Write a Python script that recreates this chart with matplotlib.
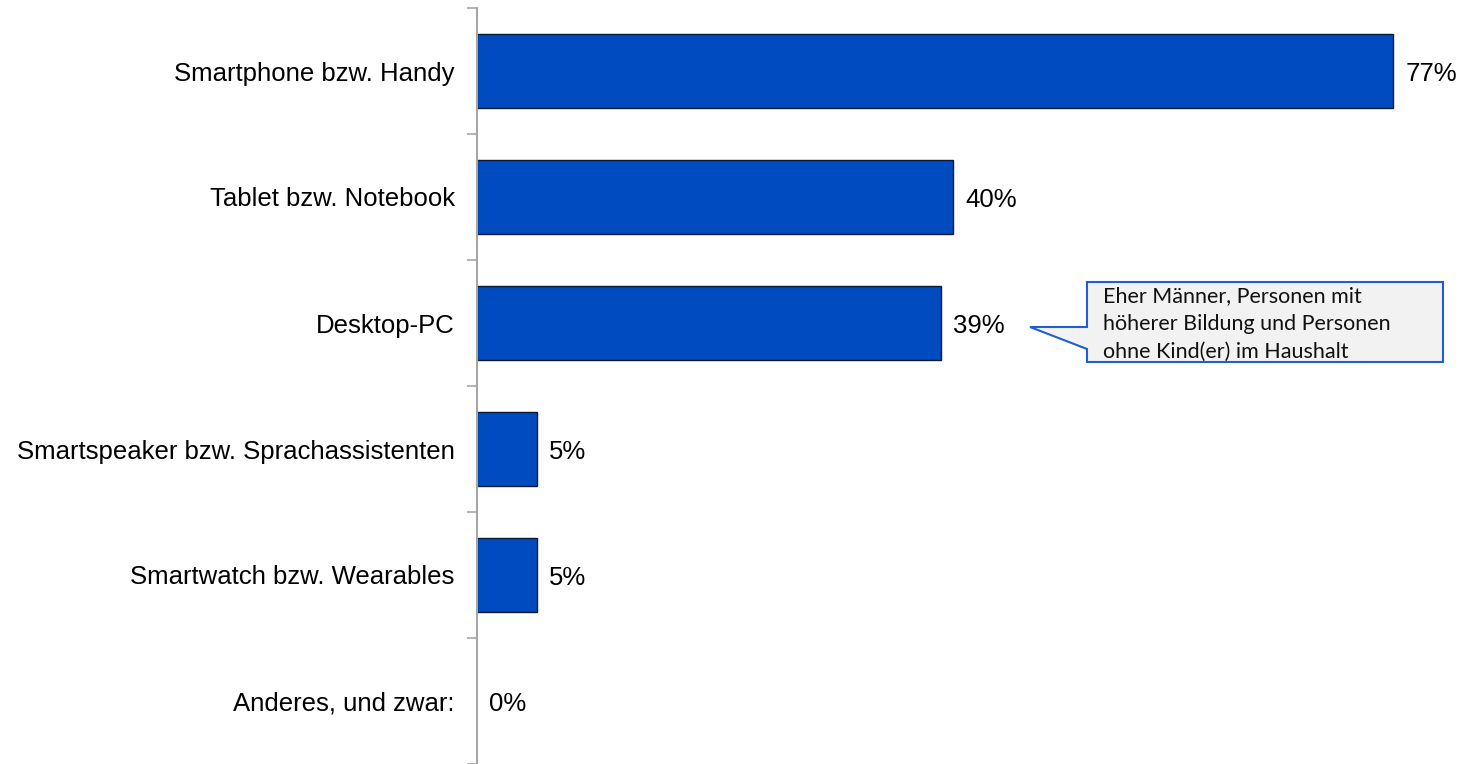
import matplotlib
matplotlib.use("Agg")
import matplotlib.pyplot as plt
from matplotlib.patches import Polygon

categories = ["Smartphone bzw. Handy", "Tablet bzw. Notebook", "Desktop-PC",
              "Smartspeaker bzw. Sprachassistenten", "Smartwatch bzw. Wearables",
              "Anderes, und zwar:"]
values = [77, 40, 39, 5, 5, 0]
callout_text = "Eher Männer, Personen mit\nhöherer Bildung und Personen\nohne Kind(er) im Haushalt"

W, H = 1461, 764
fig = plt.figure(figsize=(W / 100, H / 100), dpi=100)
ax = fig.add_axes([477 / W, 0, 984 / W, 756 / H])
ax.set_xlim(0, 984 / 11.9)
ax.set_ylim(len(categories) - 0.5, -0.5)

y = list(range(len(categories)))
ax.barh(y, values, height=0.58, color="#004bc0", edgecolor="#0a1a3a",
        linewidth=[1.0 if v > 0 else 0 for v in values])

for yi, v in zip(y, values):
    ax.annotate(f"{v}%", (v, yi), xytext=(12, -3), textcoords="offset pixels",
                va="center", ha="left", fontsize=18.5, family="Liberation Sans")

ax.set_yticks(y)
ax.set_yticklabels(categories, fontsize=18.5, family="Liberation Sans")
ax.tick_params(axis="y", which="major", length=0, pad=16)
ax.set_yticks([i + 0.5 for i in range(-1, len(categories))], minor=True)
ax.tick_params(axis="y", which="minor", length=7, color="#a6a6a6", width=1.2)
ax.set_xticks([])
for s in ["top", "right", "bottom"]:
    ax.spines[s].set_visible(False)
ax.spines["left"].set_color("#a6a6a6")
ax.spines["left"].set_linewidth(1.5)

# callout
pts = [(1087, 282), (1443, 282), (1443, 362), (1087, 362), (1087, 349), (1030, 327), (1087, 327)]
poly = Polygon([(px / W, 1 - py / H) for px, py in pts], closed=True,
               transform=fig.transFigure, facecolor="#f2f2f2", edgecolor="#1f5fd0", linewidth=1.5)
fig.add_artist(poly)
fig.text(1103 / W, 1 - 324 / H, callout_text, ha="left", va="center", fontsize=15.5,
         family="Lato", linespacing=1.5, color="#111111")

fig.savefig("out.png", dpi=100)
